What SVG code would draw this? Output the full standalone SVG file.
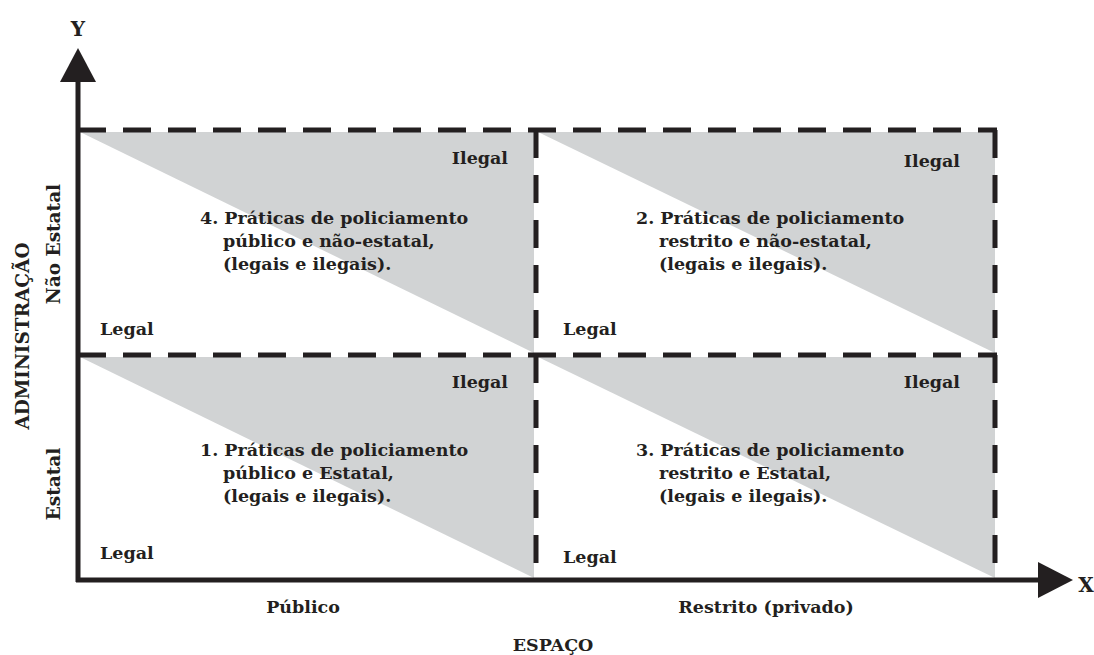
<svg xmlns="http://www.w3.org/2000/svg" width="1094" height="655" viewBox="0 0 1094 655">
<defs>
<style>
.t{font-family:"DejaVu Serif","Liberation Serif",serif;font-weight:bold;fill:#231f20;font-size:17.5px}
.r{font-size:18.5px}
.ax{font-family:"DejaVu Serif","Liberation Serif",serif;font-weight:bold;fill:#231f20;font-size:20px}
.tri{fill:#d1d3d4}
.dash{stroke:#231f20;stroke-width:5;fill:none;stroke-dasharray:28 17}
.axis{stroke:#231f20;stroke-width:5;fill:none}
</style>
</defs>
<rect width="1094" height="655" fill="#fff"/>
<g id="shading">
<polygon class="tri" points="80,132 534,132 534,353"/>
<polygon class="tri" points="538,132 995,132 995,353"/>
<polygon class="tri" points="80,357 534,357 534,578"/>
<polygon class="tri" points="538,357 995,357 995,578"/>
</g>
<g id="connectors">
<line class="dash" x1="78" y1="130" x2="997" y2="130"/>
<line class="dash" x1="78" y1="355" x2="997" y2="355"/>
<line class="dash" x1="536" y1="130" x2="536" y2="580"/>
<line class="dash" x1="995" y1="130" x2="995" y2="580"/>
<line class="axis" x1="78" y1="80" x2="78" y2="582"/>
<line class="axis" x1="76" y1="580" x2="1040" y2="580"/>
<polygon fill="#231f20" points="78,48 96,82 60,82"/>
<polygon fill="#231f20" points="1073,580 1038,562 1038,598"/>
</g>
<g id="axis-y">
<text class="ax" x="78" y="36" text-anchor="middle">Y</text>
<text class="t r" transform="translate(29,336) rotate(-90)" text-anchor="middle">ADMINISTRAÇÃO</text>
<text class="t r" transform="translate(60,244) rotate(-90)" text-anchor="middle">Não Estatal</text>
<text class="t r" transform="translate(60,484) rotate(-90)" text-anchor="middle">Estatal</text>
</g>
<g id="axis-x">
<text class="ax" x="1086" y="592" text-anchor="middle">X</text>
<text class="t" x="303" y="613" text-anchor="middle">Público</text>
<text class="t" x="766" y="613" text-anchor="middle">Restrito (privado)</text>
<text class="t" x="553" y="651" text-anchor="middle">ESPAÇO</text>
</g>
<g id="cell-4">
<text class="t" x="508" y="164" text-anchor="end">Ilegal</text>
<text class="t" x="200" y="224">4. Práticas de policiamento</text>
<text class="t" x="223" y="247">público e não-estatal,</text>
<text class="t" x="223" y="270">(legais e ilegais).</text>
<text class="t" x="100" y="335">Legal</text>
</g>
<g id="cell-2">
<text class="t" x="960" y="167" text-anchor="end">Ilegal</text>
<text class="t" x="636" y="224">2. Práticas de policiamento</text>
<text class="t" x="659" y="247">restrito e não-estatal,</text>
<text class="t" x="659" y="270">(legais e ilegais).</text>
<text class="t" x="563" y="335">Legal</text>
</g>
<g id="cell-1">
<text class="t" x="508" y="388" text-anchor="end">Ilegal</text>
<text class="t" x="200" y="456">1. Práticas de policiamento</text>
<text class="t" x="223" y="479">público e Estatal,</text>
<text class="t" x="223" y="502">(legais e ilegais).</text>
<text class="t" x="100" y="559">Legal</text>
</g>
<g id="cell-3">
<text class="t" x="960" y="388" text-anchor="end">Ilegal</text>
<text class="t" x="636" y="456">3. Práticas de policiamento</text>
<text class="t" x="659" y="479">restrito e Estatal,</text>
<text class="t" x="659" y="502">(legais e ilegais).</text>
<text class="t" x="563" y="563">Legal</text>
</g>
</svg>
